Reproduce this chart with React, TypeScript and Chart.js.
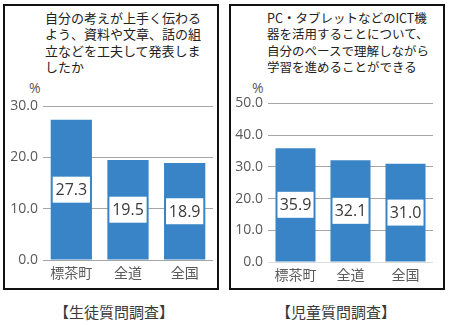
import React, { useEffect, useRef } from "react";
import { Chart, registerables } from "chart.js";

Chart.register(...registerables);

// ---- data ----
const categories = ["標茶町", "全道", "全国"];
const studentValues = [27.3, 19.5, 18.9];
const childValues = [35.9, 32.1, 31.0];
const studentAxis = [0, 30, 10]; // min, max, step
const childAxis = [0, 50, 10];
const studentTitle = ["自分の考えが上手く伝わる", "よう、資料や文章、話の組", "立などを工夫して発表しま", "したか"];
const childTitle = ["PC・タブレットなどのICT機", "器を活用することについて、", "自分のペースで理解しながら", "学習を進めることができる"];
const studentCaption = "【生徒質問調査】";
const childCaption = "【児童質問調査】";
const unitLabel = "%";

const BAR_COLOR = "#3884c6";
const GRID_COLOR = "#a6a6a6";
const JP_FONT = "'Noto Sans CJK JP', 'Noto Sans', sans-serif";
const NUM_FONT = "'Open Sans', 'Noto Sans', sans-serif";

const valueLabelPlugin = {
  id: "valueLabels",
  afterDatasetsDraw(chart: any) {
    const ctx = chart.ctx;
    const meta = chart.getDatasetMeta(0);
    const data = chart.data.datasets[0].data as number[];
    ctx.save();
    ctx.font = `16px ${NUM_FONT}`;
    ctx.textAlign = "center";
    ctx.textBaseline = "middle";
    meta.data.forEach((bar: any, i: number) => {
      const { x, y, base, width } = bar.getProps(["x", "y", "base", "width"], true);
      const cy = (y + base) / 2;
      const w = width - 4;
      const h = 26;
      ctx.fillStyle = "#ffffff";
      ctx.fillRect(x - w / 2, cy - h / 2, w, h);
      ctx.fillStyle = "#3a3a3a";
      ctx.fillText(Number(data[i]).toFixed(1), x, cy + 1);
    });
    ctx.restore();
  },
};

type PanelChartProps = {
  values: number[];
  axis: number[];
  padRight: number;
  padTop: number;
  xHeight: number;
  baselineColor: string;
  left: number;
  top: number;
};

function PanelChart({ values, axis, padRight, padTop, xHeight, baselineColor, left, top }: PanelChartProps) {
  const ref = useRef<HTMLCanvasElement | null>(null);
  useEffect(() => {
    if (!ref.current) return;
    const chart = new Chart(ref.current, {
      type: "bar",
      data: {
        labels: categories,
        datasets: [
          {
            data: values,
            backgroundColor: BAR_COLOR,
            borderWidth: 0,
            barPercentage: 0.8,
            categoryPercentage: 0.91,
          },
        ],
      },
      options: {
        responsive: false,
        animation: false,
        devicePixelRatio: 1,
        layout: { padding: { top: padTop, right: padRight, left: 0, bottom: 0 } },
        plugins: { legend: { display: false }, tooltip: { enabled: false }, title: { display: false } },
        scales: {
          x: {
            grid: { display: false, drawTicks: false },
            border: { display: false },
            ticks: { color: "#5a5a5a", font: { family: JP_FONT, size: 14 }, padding: 4 },
            afterFit: (scale: any) => {
              scale.height = xHeight;
            },
          },
          y: {
            min: axis[0],
            max: axis[1],
            grid: {
              drawTicks: false,
              color: (c: any) => (c.tick && c.tick.value === 0 ? baselineColor : GRID_COLOR),
              lineWidth: 1,
            },
            border: { display: false },
            ticks: {
              stepSize: axis[2],
              color: "#595959",
              font: { family: NUM_FONT, size: 14 },
              padding: 5,
              callback: (v: any) => Number(v).toFixed(1),
            },
            afterFit: (scale: any) => {
              scale.width = 43;
            },
          },
        },
      },
      plugins: [valueLabelPlugin],
    });
    return () => chart.destroy();
  }, []);
  return (
    <canvas
      ref={ref}
      width={220}
      height={200}
      style={{ position: "absolute", left, top, width: 220, height: 200 }}
    />
  );
}

type PanelProps = {
  boxLeft: number;
  boxWidth: number;
  titleLines: string[];
  titleLeft: number;
  titleFont: number;
  unitLeft: number;
  caption: string;
  captionCenter: number;
  children: React.ReactNode;
};

function Panel({ boxLeft, boxWidth, titleLines, titleLeft, titleFont, unitLeft, caption, captionCenter, children }: PanelProps) {
  return (
    <>
      <div
        style={{
          position: "absolute",
          left: boxLeft,
          top: 4,
          width: boxWidth,
          height: 286,
          border: "2px solid #111",
          boxSizing: "border-box",
        }}
      />
      <div
        style={{
          position: "absolute",
          left: titleLeft,
          top: 10,
          fontFamily: JP_FONT,
          fontSize: titleFont,
          lineHeight: "16.4px",
          color: "#222",
          whiteSpace: "nowrap",
        }}
      >
        {titleLines.map((l, i) => (
          <div key={i}>{l}</div>
        ))}
      </div>
      <div
        style={{
          position: "absolute",
          left: unitLeft,
          top: 79,
          fontFamily: NUM_FONT,
          fontSize: 14,
          lineHeight: "18px",
          color: "#595959",
        }}
      >
        {unitLabel}
      </div>
      {children}
      <div
        style={{
          position: "absolute",
          left: captionCenter - 70,
          width: 140,
          top: 302,
          textAlign: "center",
          fontFamily: JP_FONT,
          fontSize: 15,
          lineHeight: "20px",
          color: "#3a3a3a",
          whiteSpace: "nowrap",
        }}
      >
        {caption}
      </div>
    </>
  );
}

export default function App() {
  return (
    <div
      style={{
        position: "fixed",
        left: 0,
        top: 0,
        width: 450,
        height: 325,
        background: "#fff",
        overflow: "hidden",
      }}
    >
      <Panel
        boxLeft={3}
        boxWidth={216}
        titleLines={studentTitle}
        titleLeft={45}
        titleFont={13}
        unitLeft={29}
        caption={studentCaption}
        captionCenter={114}
      >
        <PanelChart
          values={studentValues}
          axis={studentAxis}
          padRight={7}
          padTop={16}
          xHeight={30}
          baselineColor={GRID_COLOR}
          left={0}
          top={90}
        />
      </Panel>
      <Panel
        boxLeft={229}
        boxWidth={216}
        titleLines={childTitle}
        titleLeft={267}
        titleFont={12.5}
        unitLeft={252}
        caption={childCaption}
        captionCenter={336}
      >
        <PanelChart
          values={childValues}
          axis={childAxis}
          padRight={12}
          padTop={12}
          xHeight={28}
          baselineColor="#dcdcdc"
          left={225}
          top={90}
        />
      </Panel>
    </div>
  );
}
